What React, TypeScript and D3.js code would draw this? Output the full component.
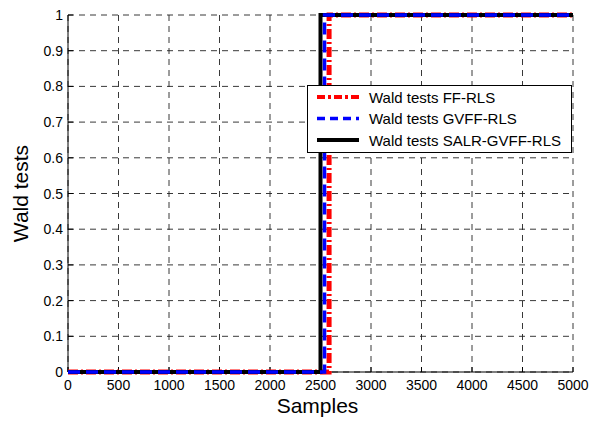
import React from "react";
import * as d3 from "d3";

const seriesNames = ["Wald tests FF-RLS", "Wald tests GVFF-RLS", "Wald tests SALR-GVFF-RLS"];
const ffSamples = [0, 2585, 2585, 5000];
const ffValues = [0, 0, 1, 1];
const gvffSamples = [0, 2540, 2540, 5000];
const gvffValues = [0, 0, 1, 1];
const salrSamples = [0, 2500, 2500, 5000];
const salrValues = [0, 0, 1, 1];
const xTicks = [0, 500, 1000, 1500, 2000, 2500, 3000, 3500, 4000, 4500, 5000];
const yTicks = [0, 0.1, 0.2, 0.3, 0.4, 0.5, 0.6, 0.7, 0.8, 0.9, 1];

const W = 590, H = 421;
const left = 68, right = 573, top = 15, bottom = 372;
const FONT = "Liberation Sans, Arial, Helvetica, sans-serif";

export default function App() {
  const x = d3.scaleLinear().domain([0, 5000]).range([left, right]);
  const y = d3.scaleLinear().domain([0, 1]).range([bottom, top]);
  const line = d3.line<[number, number]>().x(d => x(d[0])).y(d => y(d[1]));
  const pts = (xs: number[], ys: number[]) => xs.map((v, i) => [v, ys[i]] as [number, number]);

  const series = [
    { name: seriesNames[0], d: line(pts(ffSamples, ffValues)), color: "#ff0000", width: 5, dash: "10,3,2,3" },
    { name: seriesNames[2], d: line(pts(salrSamples, salrValues)), color: "#000000", width: 4, dash: "" },
    { name: seriesNames[1], d: line(pts(gvffSamples, gvffValues)), color: "#0000ff", width: 3.5, dash: "12,6" },
  ];
  const legendItems = [
    { name: seriesNames[0], color: "#ff0000", width: 4, dash: "8,3,3,3" },
    { name: seriesNames[1], color: "#0000ff", width: 3.5, dash: "8,5" },
    { name: seriesNames[2], color: "#000000", width: 4, dash: "" },
  ];

  return (
    <svg width={W} height={H} style={{ position: "absolute", left: 0, top: 0, background: "#fff" }} fontFamily={FONT}>
      <rect x={0} y={0} width={W} height={H} fill="#fff" />
      {/* grid */}
      {xTicks.map(t => (
        <line key={"gx" + t} x1={x(t)} x2={x(t)} y1={top} y2={bottom} stroke="#222" strokeWidth={0.9} strokeDasharray="6,5" />
      ))}
      {yTicks.map(t => (
        <line key={"gy" + t} x1={left} x2={right} y1={y(t)} y2={y(t)} stroke="#222" strokeWidth={0.9} strokeDasharray="6,5" />
      ))}
      {/* ticks */}
      {xTicks.map(t => (
        <line key={"tx" + t} x1={x(t)} x2={x(t)} y1={bottom} y2={bottom - 5} stroke="#000" strokeWidth={1} />
      ))}
      {yTicks.map(t => (
        <line key={"ty" + t} x1={left} x2={left + 5} y1={y(t)} y2={y(t)} stroke="#000" strokeWidth={1} />
      ))}
      {/* axes */}
      <line x1={left} x2={left} y1={top} y2={bottom} stroke="#000" strokeWidth={1} />
      <line x1={left} x2={right} y1={bottom} y2={bottom} stroke="#000" strokeWidth={1} />
      {/* data */}
      {series.map(s => (
        <path key={s.name} d={s.d || ""} fill="none" stroke={s.color} strokeWidth={s.width} strokeDasharray={s.dash || undefined} />
      ))}
      {/* tick labels */}
      {xTicks.map(t => (
        <text key={"lx" + t} x={x(t)} y={390} textAnchor="middle" fontSize={14}>{t}</text>
      ))}
      {yTicks.map(t => (
        <text key={"ly" + t} x={left - 5} y={y(t) + 5} textAnchor="end" fontSize={14}>{t}</text>
      ))}
      {/* axis labels */}
      <text x={(left + right) / 2 - 3} y={413} textAnchor="middle" fontSize={21}>Samples</text>
      <text transform={`translate(28,${(top + bottom) / 2}) rotate(-90)`} textAnchor="middle" fontSize={21}>Wald tests</text>
      {/* legend */}
      <rect x={307.5} y={85.5} width={264} height={67} fill="#fff" stroke="#000" strokeWidth={1} />
      {legendItems.map((l, i) => (
        <g key={l.name} transform={`translate(0,${97 + i * 21.5})`}>
          <line x1={317} x2={359} y1={0} y2={0} stroke={l.color} strokeWidth={l.width} strokeDasharray={l.dash || undefined} />
          <text x={369} y={5.5} fontSize={15}>{l.name}</text>
        </g>
      ))}
    </svg>
  );
}
